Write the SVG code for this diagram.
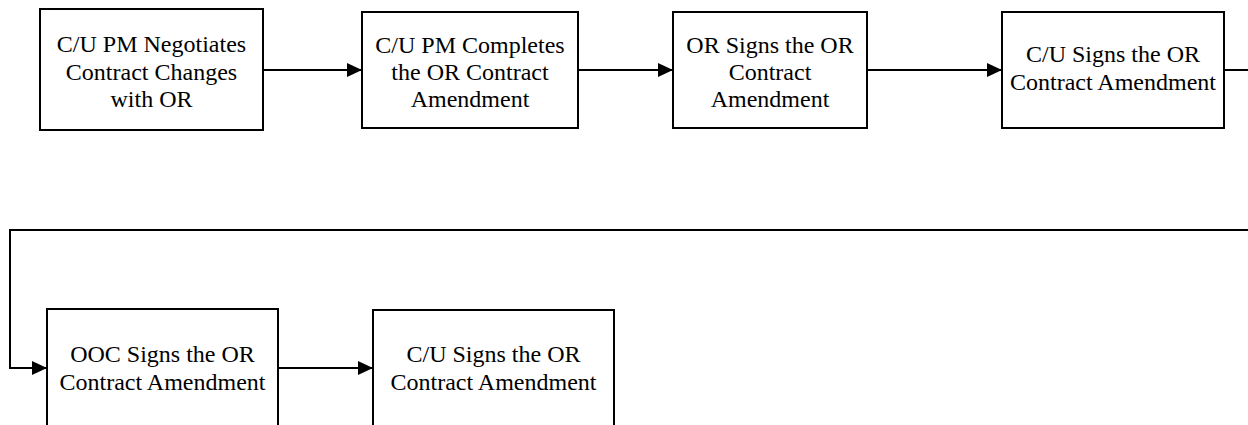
<svg xmlns="http://www.w3.org/2000/svg" width="1248" height="425" viewBox="0 0 1248 425">
<defs>
<style>
.box{fill:#fff;stroke:#000;stroke-width:2}
.t{font-family:"Liberation Serif","Times New Roman",serif;font-size:24px;fill:#000;text-anchor:middle}
.c{fill:none;stroke:#000;stroke-width:2}
</style>
<marker id="ah" markerWidth="16" markerHeight="16" refX="15" refY="7" orient="auto" markerUnits="userSpaceOnUse">
<path d="M0,0 L15,7 L0,14 Z" fill="#000"/>
</marker>
</defs>
<rect width="1248" height="425" fill="#fff"/>
<g id="connectors">
<path class="c" d="M263,70 H362" marker-end="url(#ah)"/>
<path class="c" d="M578,70 H673" marker-end="url(#ah)"/>
<path class="c" d="M867,70 H1002" marker-end="url(#ah)"/>
<path class="c" d="M1224,70 H1262 V230 H10 V368 H47" marker-end="url(#ah)"/>
<path class="c" d="M278,368 H373" marker-end="url(#ah)"/>
</g>
<g id="n1">
<rect class="box" x="40" y="9" width="223" height="121"/>
<text class="t" x="151.5" y="52">C/U PM Negotiates</text>
<text class="t" x="151.5" y="80">Contract Changes</text>
<text class="t" x="151.5" y="107">with OR</text>
</g>
<g id="n2">
<rect class="box" x="362" y="12" width="216" height="116"/>
<text class="t" x="470" y="53">C/U PM Completes</text>
<text class="t" x="470" y="80">the OR Contract</text>
<text class="t" x="470" y="107">Amendment</text>
</g>
<g id="n3">
<rect class="box" x="673" y="12" width="194" height="116"/>
<text class="t" x="770" y="53">OR Signs the OR</text>
<text class="t" x="770" y="80">Contract</text>
<text class="t" x="770" y="107">Amendment</text>
</g>
<g id="n4">
<rect class="box" x="1002" y="12" width="222" height="116"/>
<text class="t" x="1113" y="62">C/U Signs the OR</text>
<text class="t" x="1113" y="90">Contract Amendment</text>
</g>
<g id="n5">
<rect class="box" x="47" y="309" width="231" height="140"/>
<text class="t" x="162.5" y="362">OOC Signs the OR</text>
<text class="t" x="162.5" y="390">Contract Amendment</text>
</g>
<g id="n6">
<rect class="box" x="373" y="310" width="241" height="140"/>
<text class="t" x="493.5" y="362">C/U Signs the OR</text>
<text class="t" x="493.5" y="390">Contract Amendment</text>
</g>
</svg>
